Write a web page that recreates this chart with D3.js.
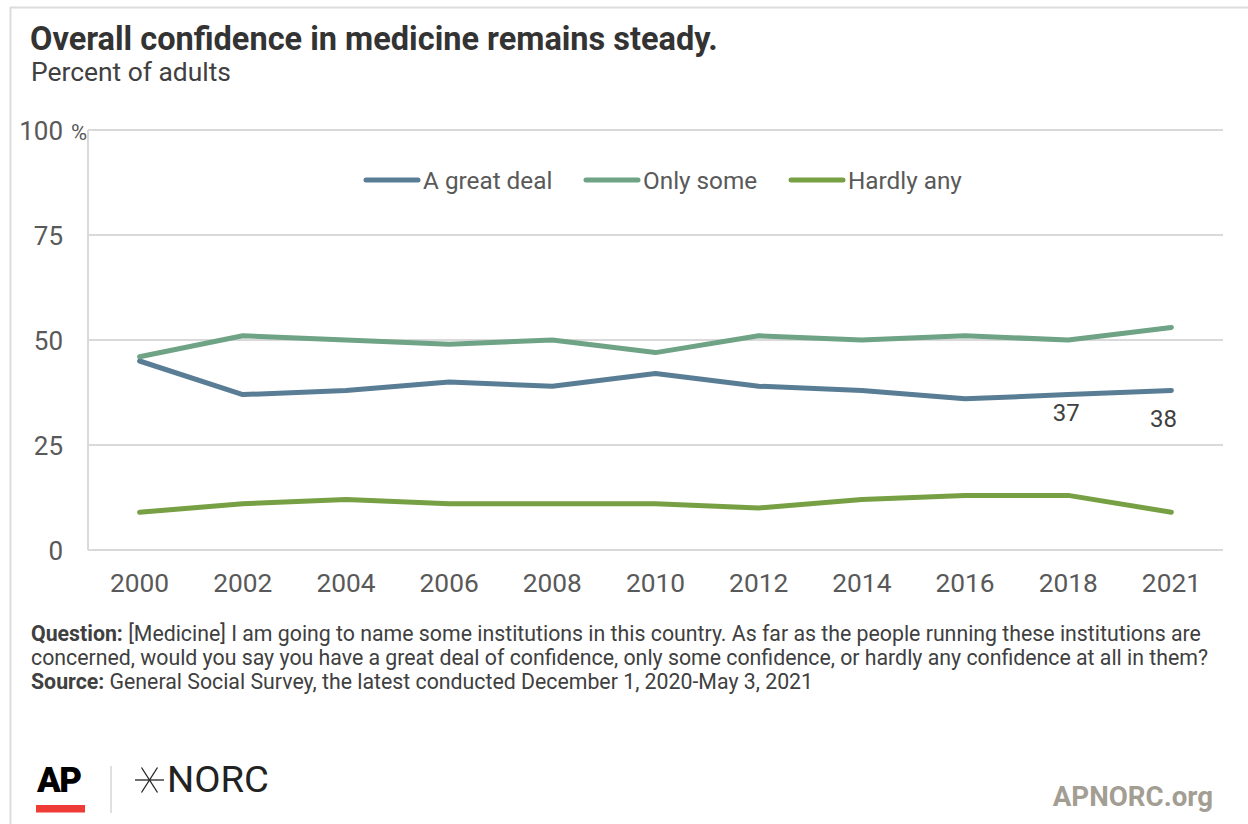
<!DOCTYPE html>
<html>
<head>
<meta charset="utf-8">
<script src="https://cdn.jsdelivr.net/npm/d3@7"></script>
<style>
  html, body { margin: 0; padding: 0; background: #fff; }
  svg { display: block; font-family: Roboto, "Noto Sans", sans-serif; }
</style>
</head>
<body>
<svg id="chart" width="1248" height="824"></svg>
<script>
// Survey years and confidence shares (percent of adults)
const years = ["2000", "2002", "2004", "2006", "2008", "2010", "2012", "2014", "2016", "2018", "2021"];
const greatDeal = [45, 37, 38, 40, 39, 42, 39, 38, 36, 37, 38];
const onlySome = [46, 51, 50, 49, 50, 47, 51, 50, 51, 50, 53];
const hardlyAny = [9, 11, 12, 11, 11, 11, 10, 12, 13, 13, 9];
const seriesNames = ["A great deal", "Only some", "Hardly any"];
const seriesColors = ["#5a7d96", "#6fa386", "#76a043"];
const yTicks = [0, 25, 50, 75, 100];
// Values labelled on the chart (series index, year index)
const labelled = [[0, 9], [0, 10]];

const svg = d3.select("#chart");

// Frame lines at top and left
svg.append("line").attr("x1", 10).attr("x2", 1248).attr("y1", 7.5).attr("y2", 7.5)
  .attr("stroke", "#dcdcdc").attr("stroke-width", 2);
svg.append("line").attr("x1", 10.5).attr("x2", 10.5).attr("y1", 7).attr("y2", 824)
  .attr("stroke", "#dcdcdc").attr("stroke-width", 2);

// Title and subtitle
svg.append("text").attr("x", 30).attr("y", 50)
  .attr("font-size", 32.5).attr("font-weight", 700).attr("fill", "#333")
  .text("Overall confidence in medicine remains steady.");
svg.append("text").attr("x", 31).attr("y", 81)
  .attr("font-size", 26.4).attr("fill", "#404040")
  .text("Percent of adults");

const plot = { left: 88, right: 1223, top: 130, bottom: 550 };

const x = d3.scaleBand().domain(years).range([plot.left, plot.right]);
const y = d3.scaleLinear().domain([0, 100]).range([plot.bottom, plot.top]);

// Horizontal gridlines
svg.append("g").selectAll("line").data(yTicks).join("line")
  .attr("x1", plot.left).attr("x2", plot.right)
  .attr("y1", d => y(d)).attr("y2", d => y(d))
  .attr("stroke", "#d9d9d9").attr("stroke-width", 2);

// Vertical axis line
svg.append("line").attr("x1", plot.left).attr("x2", plot.left)
  .attr("y1", plot.top).attr("y2", plot.bottom)
  .attr("stroke", "#d9d9d9").attr("stroke-width", 2);

// Y axis labels
svg.append("g").selectAll("text").data(yTicks).join("text")
  .attr("x", 63).attr("y", d => y(d) + 9.5)
  .attr("text-anchor", "end")
  .attr("font-size", 26).attr("fill", "#595959")
  .text(d => d);
svg.append("text").attr("x", 71).attr("y", y(100) + 9.5)
  .attr("font-size", 22).attr("fill", "#595959").text("%");

// X axis labels
const xAxis = d3.axisBottom(x).tickSize(0).tickPadding(0);
const xg = svg.append("g").attr("transform", `translate(0,${plot.bottom})`).call(xAxis);
xg.select(".domain").remove();
xg.selectAll("text")
  .attr("y", 42).attr("dy", 0)
  .attr("font-size", 26.3).attr("fill", "#595959")
  .attr("font-family", "Roboto, 'Noto Sans', sans-serif");

// Series lines
const seriesData = [greatDeal, onlySome, hardlyAny];
const line = d3.line()
  .x((d, i) => x(years[i]) + x.bandwidth() / 2)
  .y(d => y(d));

[0, 1, 2].forEach(s => {
  svg.append("path")
    .datum(seriesData[s])
    .attr("d", line)
    .attr("fill", "none")
    .attr("stroke", seriesColors[s])
    .attr("stroke-width", 5)
    .attr("stroke-linecap", "round")
    .attr("stroke-linejoin", "round");
});

// Value labels under the last two points
const labelOffset = [[-2, 26.5], [-8, 36.5]];
labelled.forEach(([s, i], k) => {
  svg.append("text")
    .attr("x", x(years[i]) + x.bandwidth() / 2 + labelOffset[k][0])
    .attr("y", y(seriesData[s][i]) + labelOffset[k][1])
    .attr("text-anchor", "middle")
    .attr("font-size", 24).attr("fill", "#404040")
    .text(seriesData[s][i]);
});

// Legend
const legendX = [366, 586, 791];
const legend = svg.append("g").selectAll("g").data(seriesNames).join("g")
  .attr("transform", (d, i) => `translate(${legendX[i]},180)`);
legend.append("line")
  .attr("x1", 0).attr("x2", 52).attr("y1", 0).attr("y2", 0)
  .attr("stroke", (d, i) => seriesColors[i])
  .attr("stroke-width", 5).attr("stroke-linecap", "round");
legend.append("text")
  .attr("x", 57).attr("y", 8.5)
  .attr("font-size", 24.3).attr("fill", "#595959")
  .text(d => d);

// Footnotes
const notes = svg.append("g").attr("font-size", 21.3).attr("fill", "#404040");
const n1 = notes.append("text").attr("x", 31).attr("y", 641);
n1.append("tspan").attr("font-weight", 700).text("Question:");
n1.append("tspan").text(" [Medicine] I am going to name some institutions in this country. As far as the people running these institutions are");
notes.append("text").attr("x", 31).attr("y", 665)
  .text("concerned, would you say you have a great deal of confidence, only some confidence, or hardly any confidence at all in them?");
const n3 = notes.append("text").attr("x", 31).attr("y", 689);
n3.append("tspan").attr("font-weight", 700).text("Source:");
n3.append("tspan").text(" General Social Survey, the latest conducted December 1, 2020-May 3, 2021");

// Logos
svg.append("text").attr("x", 37).attr("y", 792)
  .attr("font-size", 35).attr("font-weight", 900).attr("fill", "#000")
  .attr("letter-spacing", -1.5).text("AP");
svg.append("rect").attr("x", 36).attr("y", 805).attr("width", 49).attr("height", 7.5).attr("fill", "#ef3b35");
svg.append("line").attr("x1", 111).attr("x2", 111).attr("y1", 766).attr("y2", 813)
  .attr("stroke", "#cfccc6").attr("stroke-width", 1.2);

// NORC star mark
const star = svg.append("g").attr("transform", "translate(149.5,780)")
  .attr("stroke", "#222").attr("stroke-width", 1.3);
[[-14.5, 0, 14.5, 0], [-8, -12.5, 8, 12.5], [8, -12.5, -8, 12.5]].forEach(s => {
  star.append("line").attr("x1", s[0]).attr("y1", s[1]).attr("x2", s[2]).attr("y2", s[3]);
});
svg.append("text").attr("x", 167).attr("y", 792)
  .attr("font-size", 36).attr("font-weight", 400).attr("fill", "#222")
  .attr("textLength", 102).attr("lengthAdjust", "spacingAndGlyphs")
  .text("NORC");

svg.append("text").attr("x", 1213).attr("y", 806)
  .attr("text-anchor", "end")
  .attr("font-size", 27.7).attr("font-weight", 700).attr("fill", "#a39e93")
  .text("APNORC.org");
</script>
</body>
</html>
